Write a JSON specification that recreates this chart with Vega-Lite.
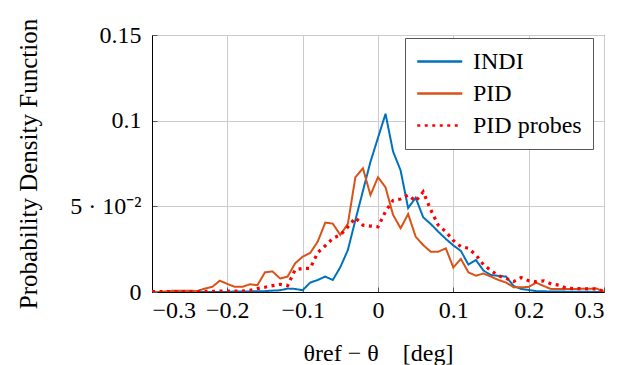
{
 "$schema": "https://vega.github.io/schema/vega-lite/v6.json",
 "width": 452, "height": 257,
 "autosize": {"type": "none"},
 "padding": {"left": 152, "top": 35, "right": 33, "bottom": 73},
 "background": "white",
 "config": {"font": "Liberation Serif", "view": {"stroke": "black", "strokeWidth": 1},
  "axis": {"labelFont": "Liberation Serif", "titleFont": "Liberation Serif"},
  "legend": {"labelFont": "Liberation Serif", "titleFont": "Liberation Serif"}},
 "data": {"values": [
  {"x":-0.30,"s":"INDI","y":0},{"x":-0.29,"s":"INDI","y":0},{"x":-0.28,"s":"INDI","y":0},{"x":-0.27,"s":"INDI","y":0},{"x":-0.26,"s":"INDI","y":0},{"x":-0.25,"s":"INDI","y":0},{"x":-0.24,"s":"INDI","y":0},{"x":-0.23,"s":"INDI","y":0},{"x":-0.22,"s":"INDI","y":0},{"x":-0.21,"s":"INDI","y":0},{"x":-0.20,"s":"INDI","y":0},{"x":-0.19,"s":"INDI","y":0.0003},{"x":-0.18,"s":"INDI","y":0.0003},{"x":-0.17,"s":"INDI","y":0.0003},{"x":-0.16,"s":"INDI","y":0.0005},{"x":-0.15,"s":"INDI","y":0.0005},{"x":-0.14,"s":"INDI","y":0.0008},{"x":-0.13,"s":"INDI","y":0.001},{"x":-0.12,"s":"INDI","y":0.002},{"x":-0.11,"s":"INDI","y":0.0018},{"x":-0.10,"s":"INDI","y":0.001},{"x":-0.09,"s":"INDI","y":0.0055},{"x":-0.08,"s":"INDI","y":0.007},{"x":-0.07,"s":"INDI","y":0.009},{"x":-0.06,"s":"INDI","y":0.007},{"x":-0.05,"s":"INDI","y":0.0145},{"x":-0.04,"s":"INDI","y":0.0245},{"x":-0.03,"s":"INDI","y":0.042},{"x":-0.02,"s":"INDI","y":0.059},{"x":-0.01,"s":"INDI","y":0.076},{"x":0.00,"s":"INDI","y":0.09},{"x":0.01,"s":"INDI","y":0.104},{"x":0.02,"s":"INDI","y":0.082},{"x":0.03,"s":"INDI","y":0.071},{"x":0.04,"s":"INDI","y":0.049},{"x":0.05,"s":"INDI","y":0.055},{"x":0.06,"s":"INDI","y":0.0436},{"x":0.07,"s":"INDI","y":0.0397},{"x":0.08,"s":"INDI","y":0.0352},{"x":0.09,"s":"INDI","y":0.031},{"x":0.10,"s":"INDI","y":0.0272},{"x":0.11,"s":"INDI","y":0.024},{"x":0.12,"s":"INDI","y":0.016},{"x":0.13,"s":"INDI","y":0.0187},{"x":0.14,"s":"INDI","y":0.0125},{"x":0.15,"s":"INDI","y":0.0099},{"x":0.16,"s":"INDI","y":0.0094},{"x":0.17,"s":"INDI","y":0.009},{"x":0.18,"s":"INDI","y":0.0035},{"x":0.19,"s":"INDI","y":0.0018},{"x":0.20,"s":"INDI","y":0.0012},{"x":0.21,"s":"INDI","y":0.0005},{"x":0.22,"s":"INDI","y":0.0004},{"x":0.23,"s":"INDI","y":0.0003},{"x":0.24,"s":"INDI","y":0.0003},{"x":0.25,"s":"INDI","y":0.0002},{"x":0.26,"s":"INDI","y":0.0002},{"x":0.27,"s":"INDI","y":0.0001},{"x":0.28,"s":"INDI","y":0.0001},{"x":0.29,"s":"INDI","y":0},{"x":0.30,"s":"INDI","y":0},
  {"x":-0.30,"s":"PID","y":0},{"x":-0.29,"s":"PID","y":0},{"x":-0.28,"s":"PID","y":0.0005},{"x":-0.27,"s":"PID","y":0.0008},{"x":-0.26,"s":"PID","y":0.0008},{"x":-0.25,"s":"PID","y":0.0008},{"x":-0.24,"s":"PID","y":0.0005},{"x":-0.23,"s":"PID","y":0.002},{"x":-0.22,"s":"PID","y":0.003},{"x":-0.21,"s":"PID","y":0.0066},{"x":-0.20,"s":"PID","y":0.0047},{"x":-0.19,"s":"PID","y":0.003},{"x":-0.18,"s":"PID","y":0.003},{"x":-0.17,"s":"PID","y":0.0045},{"x":-0.16,"s":"PID","y":0.004},{"x":-0.15,"s":"PID","y":0.0115},{"x":-0.14,"s":"PID","y":0.012},{"x":-0.13,"s":"PID","y":0.0079},{"x":-0.12,"s":"PID","y":0.009},{"x":-0.11,"s":"PID","y":0.0167},{"x":-0.10,"s":"PID","y":0.0206},{"x":-0.09,"s":"PID","y":0.0228},{"x":-0.08,"s":"PID","y":0.0294},{"x":-0.07,"s":"PID","y":0.0405},{"x":-0.06,"s":"PID","y":0.0399},{"x":-0.05,"s":"PID","y":0.0333},{"x":-0.04,"s":"PID","y":0.0398},{"x":-0.03,"s":"PID","y":0.067},{"x":-0.02,"s":"PID","y":0.0722},{"x":-0.01,"s":"PID","y":0.0566},{"x":0.00,"s":"PID","y":0.067},{"x":0.01,"s":"PID","y":0.0611},{"x":0.02,"s":"PID","y":0.045},{"x":0.03,"s":"PID","y":0.0372},{"x":0.04,"s":"PID","y":0.0455},{"x":0.05,"s":"PID","y":0.0323},{"x":0.06,"s":"PID","y":0.0274},{"x":0.07,"s":"PID","y":0.0235},{"x":0.08,"s":"PID","y":0.0235},{"x":0.09,"s":"PID","y":0.0255},{"x":0.10,"s":"PID","y":0.0143},{"x":0.11,"s":"PID","y":0.0193},{"x":0.12,"s":"PID","y":0.0115},{"x":0.13,"s":"PID","y":0.0095},{"x":0.14,"s":"PID","y":0.0108},{"x":0.15,"s":"PID","y":0.009},{"x":0.16,"s":"PID","y":0.007},{"x":0.17,"s":"PID","y":0.0055},{"x":0.18,"s":"PID","y":0.0028},{"x":0.19,"s":"PID","y":0.0027},{"x":0.20,"s":"PID","y":0.003},{"x":0.21,"s":"PID","y":0.0054},{"x":0.22,"s":"PID","y":0.0035},{"x":0.23,"s":"PID","y":0.0017},{"x":0.24,"s":"PID","y":0.0017},{"x":0.25,"s":"PID","y":0.0017},{"x":0.26,"s":"PID","y":0.0017},{"x":0.27,"s":"PID","y":0.0019},{"x":0.28,"s":"PID","y":0.0019},{"x":0.29,"s":"PID","y":0.002},{"x":0.30,"s":"PID","y":0.0002},
  {"x":-0.30,"s":"PID probes","y":0.0003},{"x":-0.29,"s":"PID probes","y":0.0003},{"x":-0.28,"s":"PID probes","y":0.0003},{"x":-0.27,"s":"PID probes","y":0.0003},{"x":-0.26,"s":"PID probes","y":0.0003},{"x":-0.25,"s":"PID probes","y":0.0003},{"x":-0.24,"s":"PID probes","y":0.0003},{"x":-0.23,"s":"PID probes","y":0.0004},{"x":-0.22,"s":"PID probes","y":0.0004},{"x":-0.21,"s":"PID probes","y":0.0005},{"x":-0.20,"s":"PID probes","y":0.0005},{"x":-0.19,"s":"PID probes","y":0.0005},{"x":-0.18,"s":"PID probes","y":0.0006},{"x":-0.17,"s":"PID probes","y":0.001},{"x":-0.16,"s":"PID probes","y":0.002},{"x":-0.15,"s":"PID probes","y":0.0028},{"x":-0.14,"s":"PID probes","y":0.0037},{"x":-0.13,"s":"PID probes","y":0.0045},{"x":-0.12,"s":"PID probes","y":0.0037},{"x":-0.11,"s":"PID probes","y":0.013},{"x":-0.10,"s":"PID probes","y":0.0138},{"x":-0.09,"s":"PID probes","y":0.0138},{"x":-0.08,"s":"PID probes","y":0.023},{"x":-0.07,"s":"PID probes","y":0.027},{"x":-0.06,"s":"PID probes","y":0.0313},{"x":-0.05,"s":"PID probes","y":0.0333},{"x":-0.04,"s":"PID probes","y":0.038},{"x":-0.03,"s":"PID probes","y":0.0433},{"x":-0.02,"s":"PID probes","y":0.039},{"x":-0.01,"s":"PID probes","y":0.0385},{"x":0.00,"s":"PID probes","y":0.038},{"x":0.01,"s":"PID probes","y":0.047},{"x":0.02,"s":"PID probes","y":0.0535},{"x":0.03,"s":"PID probes","y":0.0543},{"x":0.04,"s":"PID probes","y":0.0566},{"x":0.05,"s":"PID probes","y":0.053},{"x":0.06,"s":"PID probes","y":0.0585},{"x":0.07,"s":"PID probes","y":0.048},{"x":0.08,"s":"PID probes","y":0.039},{"x":0.09,"s":"PID probes","y":0.0352},{"x":0.10,"s":"PID probes","y":0.03},{"x":0.11,"s":"PID probes","y":0.0265},{"x":0.12,"s":"PID probes","y":0.0255},{"x":0.13,"s":"PID probes","y":0.0216},{"x":0.14,"s":"PID probes","y":0.016},{"x":0.15,"s":"PID probes","y":0.0125},{"x":0.16,"s":"PID probes","y":0.0095},{"x":0.17,"s":"PID probes","y":0.008},{"x":0.18,"s":"PID probes","y":0.0061},{"x":0.19,"s":"PID probes","y":0.0084},{"x":0.20,"s":"PID probes","y":0.0066},{"x":0.21,"s":"PID probes","y":0.006},{"x":0.22,"s":"PID probes","y":0.0065},{"x":0.23,"s":"PID probes","y":0.0047},{"x":0.24,"s":"PID probes","y":0.004},{"x":0.25,"s":"PID probes","y":0.0022},{"x":0.26,"s":"PID probes","y":0.002},{"x":0.27,"s":"PID probes","y":0.002},{"x":0.28,"s":"PID probes","y":0.0018},{"x":0.29,"s":"PID probes","y":0.0018},{"x":0.30,"s":"PID probes","y":0.0003}
 ]},
 "encoding": {
  "x": {"field": "x", "type": "quantitative", "scale": {"domain": [-0.3, 0.3], "nice": false},
   "axis": {"values": [-0.3, -0.2, -0.1, 0, 0.1, 0.2, 0.3], "labelExpr": "datum.value == 0 ? '0' : format(datum.value, '.1f')",
    "grid": true, "gridColor": "#cccccc", "ticks": true, "tickSize": -5, "tickColor": "#555555", "domainColor": "black", "labelColor": "black", "labelFontSize": 24, "labelPadding": 11,
    "title": "θref − θ\u00a0\u00a0\u00a0\u00a0[deg]", "titleFontSize": 24, "titleFontWeight": "normal", "titleColor": "black", "titleX": 226, "titleY": 61, "titleBaseline": "middle", "titleAlign": "center"}},
  "y": {"field": "y", "type": "quantitative", "scale": {"domain": [0, 0.15], "nice": false},
   "axis": {"values": [0, 0.05, 0.1, 0.15], "labelExpr": "datum.value == 0 ? '0' : datum.value == 0.05 ? '5 · 10⁻²' : format(datum.value, '.2~f')",
    "grid": true, "gridColor": "#cccccc", "ticks": true, "tickSize": -5, "tickColor": "#555555", "domainColor": "black", "labelColor": "black", "labelFontSize": 24, "labelPadding": 16,
    "title": "Probability Density Function", "titleFontSize": 25, "titleFontWeight": "normal", "titleColor": "black", "titleX": -124, "titleY": 128.5, "titleBaseline": "middle", "titleAlign": "center", "titleAngle": -90}},
  "color": {"field": "s", "type": "nominal", "scale": {"domain": ["INDI", "PID", "PID probes"], "range": ["#0072BD", "#D95319", "#FF0000"]},
   "legend": {"orient": "none", "legendX": 253, "legendY": 3, "title": null, "labelFont": "Liberation Serif", "labelFontSize": 24, "labelColor": "black", "symbolType": "M-1,0H3", "symbolSize": 506, "symbolStrokeWidth": 2.5, "symbolFillColor": "transparent", "fillColor": "white", "strokeColor": "#555555", "padding": 11, "rowPadding": 7, "labelOffset": 32}},
  "strokeDash": {"field": "s", "type": "nominal", "scale": {"domain": ["INDI", "PID", "PID probes"], "range": [[1, 0], [1, 0], [3, 4.5]]}}
 },
 "layer": [
  {"transform": [{"filter": "datum.s != 'PID probes'"}], "mark": {"type": "line", "clip": true, "strokeWidth": 2}},
  {"transform": [{"filter": "datum.s == 'PID probes'"}], "mark": {"type": "line", "clip": true, "strokeWidth": 3.2}}
 ]
}
